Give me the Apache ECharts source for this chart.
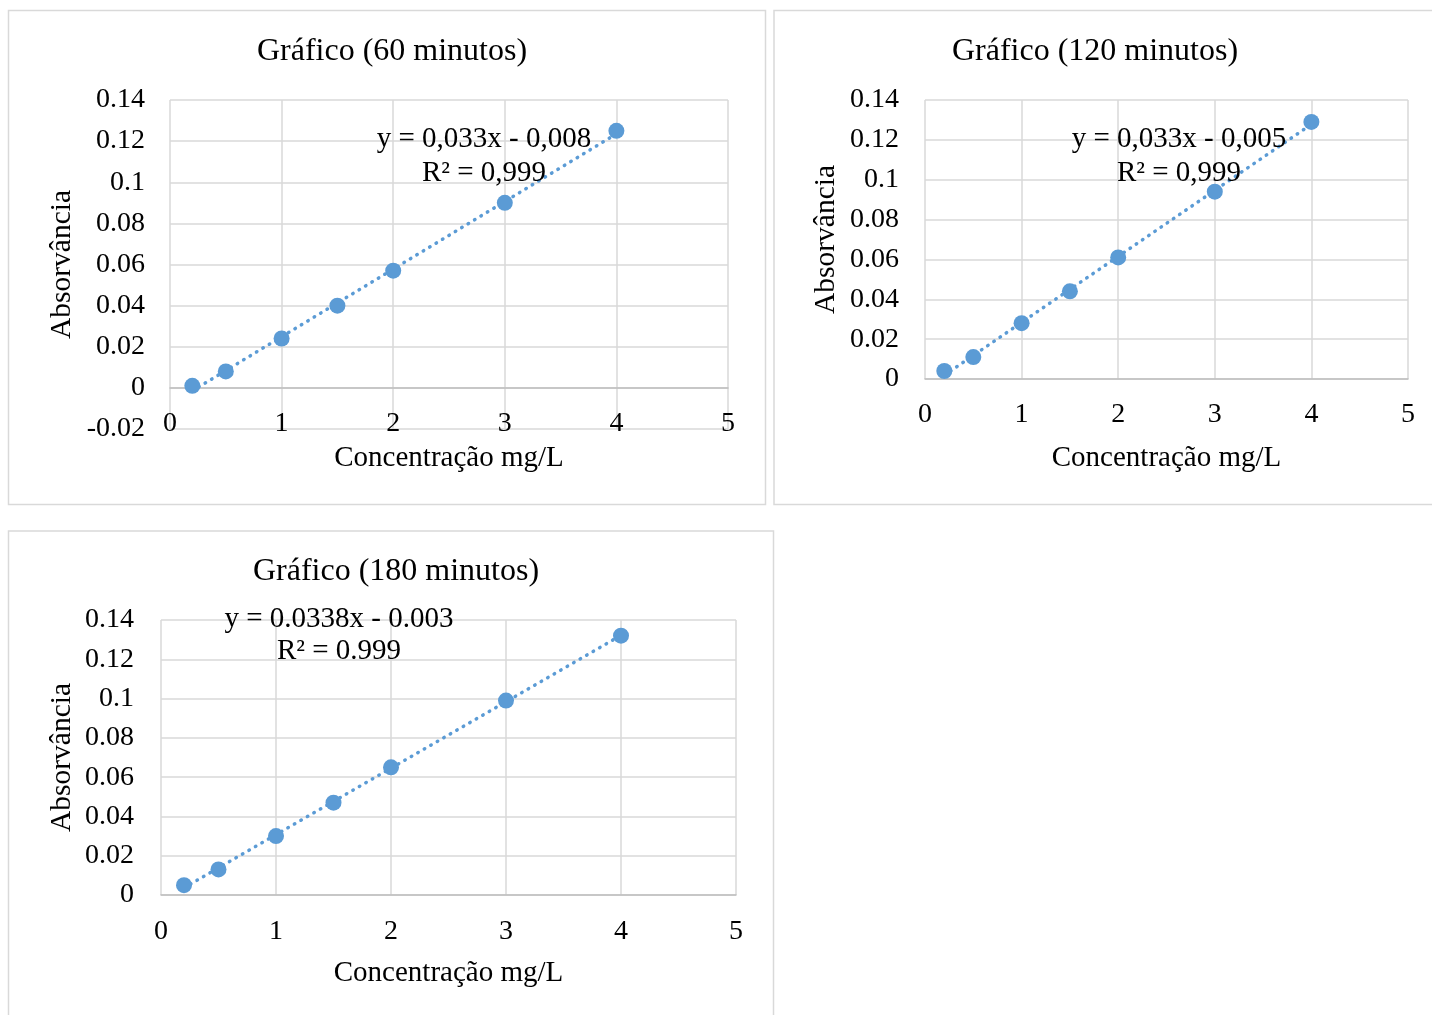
<!DOCTYPE html>
<html>
<head>
<meta charset="utf-8">
<script src="https://cdn.jsdelivr.net/npm/echarts@6/dist/echarts.min.js"></script>
<style>
html,body{margin:0;padding:0;background:#fff;}
#c{width:1432px;height:1015px;}
</style>
</head>
<body>
<div id="c"></div>
<script>
// ---- data ----
const concentrations = [0.2, 0.5, 1, 1.5, 2, 3, 4];
const abs60  = [0.001, 0.008, 0.024, 0.040, 0.057, 0.090, 0.125];
const abs120 = [0.004, 0.011, 0.028, 0.044, 0.061, 0.094, 0.129];
const abs180 = [0.005, 0.013, 0.030, 0.047, 0.065, 0.099, 0.132];
const titles = ['Gráfico (60 minutos)', 'Gráfico (120 minutos)', 'Gráfico (180 minutos)'];
const equations = ['y = 0,033x - 0,008', 'y = 0,033x - 0,005', 'y = 0.0338x - 0.003'];
const r2labels = ['R² = 0,999', 'R² = 0,999', 'R² = 0.999'];
const xAxisName = 'Concentração mg/L';
const yAxisName = 'Absorvância';
const yMins = [-0.02, 0, 0];

const FONT = '"Liberation Serif", "Times New Roman", serif';
const BLUE = '#5b9bd5';
const GRID = '#d9d9d9';

function fit(xs, ys) {
  const n = xs.length;
  let sx = 0, sy = 0, sxx = 0, sxy = 0;
  for (let i = 0; i < n; i++) { sx += xs[i]; sy += ys[i]; sxx += xs[i]*xs[i]; sxy += xs[i]*ys[i]; }
  const m = (n*sxy - sx*sy) / (n*sxx - sx*sx);
  const b = (sy - m*sx) / n;
  const x0 = Math.min(...xs), x1 = Math.max(...xs);
  return [[x0, m*x0 + b], [x1, m*x1 + b]];
}

const seriesData = [abs60, abs120, abs180];
const grids = [
  {left: 170, top: 100, width: 558, height: 329},
  {left: 925, top: 100, width: 483, height: 279},
  {left: 161, top: 620, width: 575, height: 275}
];
const yNameGap = [108, 99, 99];
const yLabelMargin = [25, 26, 27];
const xLabelMargin = [-19, 22, 23];
const xNameGap = [29, 79, 78];
const titlePos = [[387, 47], [1090, 47], [391, 567]];
const eqPos = [[484, 139, 173], [1179, 139, 173], [339, 619, 651]];

const option = {
  animation: false,
  backgroundColor: '#fff',
  title: titles.map((t, i) => ({
    text: t, left: titlePos[i][0], top: titlePos[i][1], textAlign: 'center', textVerticalAlign: 'middle',
    textStyle: {fontFamily: FONT, fontSize: 32, fontWeight: 'normal', color: '#000'}
  })),
  grid: grids,
  xAxis: grids.map((g, i) => ({
    type: 'value', gridIndex: i, min: 0, max: 5, interval: 1,
    name: xAxisName, nameLocation: 'middle', nameGap: xNameGap[i],
    nameTextStyle: {fontFamily: FONT, fontSize: 29, color: '#000', verticalAlign: 'middle'},
    axisLine: {show: true, onZero: true, lineStyle: {color: '#bfbfbf', width: 1.5}},
    axisTick: {show: false},
    axisLabel: {fontFamily: FONT, fontSize: 28, color: '#000', margin: xLabelMargin[i]},
    splitLine: {show: true, lineStyle: {color: GRID, width: 1.5}}
  })),
  yAxis: grids.map((g, i) => ({
    type: 'value', gridIndex: i, min: yMins[i], max: 0.14, interval: 0.02,
    name: yAxisName, nameLocation: 'middle', nameGap: yNameGap[i], nameRotate: 90,
    nameTextStyle: {fontFamily: FONT, fontSize: 29.5, color: '#000', verticalAlign: 'middle'},
    axisLine: {show: false},
    axisTick: {show: false},
    axisLabel: {fontFamily: FONT, fontSize: 28, color: '#000', margin: yLabelMargin[i],
      padding: [4, 0, 0, 0],
      formatter: v => String(Math.round(v * 100) / 100)},
    splitLine: {show: true, lineStyle: {color: GRID, width: 1.5}}
  })),
  series: [],
  graphic: []
};

seriesData.forEach((ys, i) => {
  option.series.push({
    type: 'line', xAxisIndex: i, yAxisIndex: i, data: fit(concentrations, ys),
    showSymbol: false, silent: true, z: 2,
    lineStyle: {color: BLUE, width: 3.5, type: [0.5, 7], cap: 'round', opacity: 1}
  });
  option.series.push({
    type: 'scatter', xAxisIndex: i, yAxisIndex: i, z: 3,
    data: concentrations.map((x, k) => [x, ys[k]]),
    symbol: 'circle', symbolSize: 16, itemStyle: {color: BLUE, opacity: 1}
  });
});

option.graphic = [
  {type: 'rect', z: -10, shape: {x: 8.5, y: 10.5, width: 757, height: 494}, style: {fill: '#fff', stroke: GRID, lineWidth: 1.5}},
  {type: 'rect', z: -10, shape: {x: 774, y: 10.5, width: 680, height: 494}, style: {fill: '#fff', stroke: GRID, lineWidth: 1.5}},
  {type: 'rect', z: -10, shape: {x: 8.5, y: 531, width: 765, height: 500}, style: {fill: '#fff', stroke: GRID, lineWidth: 1.5}}
];
eqPos.forEach((p, i) => {
  option.graphic.push({type: 'text', z: 10, x: p[0], y: p[1],
    style: {text: equations[i], font: '29px ' + FONT, fill: '#000', textAlign: 'center', textVerticalAlign: 'middle'}});
  option.graphic.push({type: 'text', z: 10, x: p[0], y: p[2],
    style: {text: r2labels[i], font: '29px ' + FONT, fill: '#000', textAlign: 'center', textVerticalAlign: 'middle'}});
});

const chart = echarts.init(document.getElementById('c'), null, {renderer: 'canvas'});
chart.setOption(option);
</script>
</body>
</html>
